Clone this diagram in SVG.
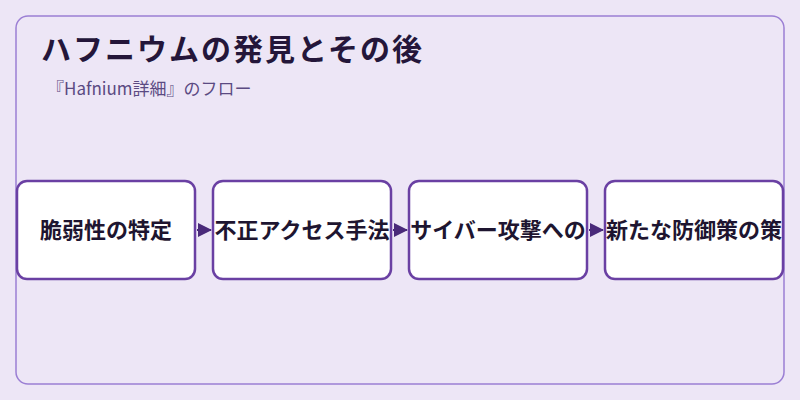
<svg xmlns="http://www.w3.org/2000/svg" width="800" height="400" viewBox="0 0 800 400">
<defs>
<style>
.frame{fill:#ede6f6;stroke:#9b7fd4;stroke-width:1.5}
.node rect{fill:#ffffff;stroke:#6a40a3;stroke-width:2.5}
.node text{font-family:"Noto Sans CJK JP","Noto Sans",sans-serif;font-size:22px;font-weight:bold;fill:#1e1530;text-anchor:middle}
.title{font-family:"Noto Sans CJK JP","Noto Sans",sans-serif;font-size:30px;font-weight:bold;fill:#24163a;letter-spacing:2px}
.sub{font-family:"Noto Sans CJK JP","Noto Sans",sans-serif;font-size:17px;fill:#5b4a82}
.conn line{stroke:#4a2a7a;stroke-width:2}
</style>
<marker id="ah" markerWidth="14" markerHeight="14" refX="13" refY="7" orient="auto" markerUnits="userSpaceOnUse">
<path d="M0,0 L14,7 L0,14 Z" fill="#4a2a7a"/>
</marker>
</defs>
<rect width="800" height="400" fill="#ede6f6"/>
<rect class="frame" x="16" y="16" width="768" height="368" rx="12"/>
<text class="title" x="41" y="60">ハフニウムの発見とその後</text>
<text class="sub" x="47" y="95">『Hafnium詳細』のフロー</text>
<g id="connectors" class="conn">
<line x1="197" y1="230" x2="211" y2="230" marker-end="url(#ah)"/>
<line x1="393" y1="230" x2="407" y2="230" marker-end="url(#ah)"/>
<line x1="589" y1="230" x2="603" y2="230" marker-end="url(#ah)"/>
</g>
<g id="node1" class="node"><rect x="17" y="181" width="178" height="98" rx="10"/><text x="106" y="238">脆弱性の特定</text></g>
<g id="node2" class="node"><rect x="213" y="181" width="178" height="98" rx="10"/><text x="302" y="238">不正アクセス手法</text></g>
<g id="node3" class="node"><rect x="409" y="181" width="178" height="98" rx="10"/><text x="498" y="238">サイバー攻撃への</text></g>
<g id="node4" class="node"><rect x="605" y="181" width="178" height="98" rx="10"/><text x="694" y="238">新たな防御策の策</text></g>
</svg>
